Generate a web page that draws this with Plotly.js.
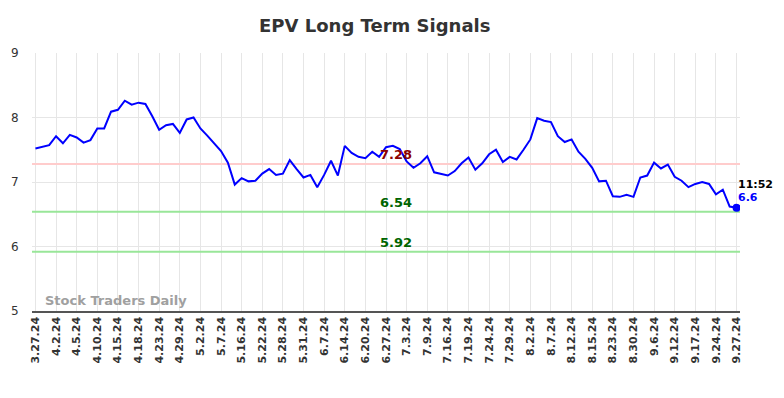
<!DOCTYPE html>
<html>
<head>
<meta charset="utf-8">
<script src="https://cdn.plot.ly/plotly-3.0.1.min.js"></script>
<style>html,body{margin:0;padding:0;background:#fff;}#chart{width:784px;height:398px;}</style>
</head>
<body>
<div id="chart"></div>
<script>
const tickLabels = ["3.27.24","4.2.24","4.5.24","4.10.24","4.15.24","4.18.24","4.23.24","4.29.24","5.2.24","5.7.24","5.16.24","5.22.24","5.28.24","5.31.24","6.7.24","6.14.24","6.20.24","6.27.24","7.3.24","7.9.24","7.16.24","7.19.24","7.24.24","7.29.24","8.2.24","8.7.24","8.12.24","8.15.24","8.23.24","8.30.24","9.6.24","9.12.24","9.17.24","9.24.24","9.27.24"];
const pointsPerTick = 3;
const signalValues = [
7.52,7.54,7.57,7.71,7.60,7.73,7.69,7.61,7.65,7.83,
7.83,8.09,8.12,8.26,8.20,8.23,8.21,8.02,7.81,7.88,
7.90,7.76,7.97,8.00,7.83,7.72,7.60,7.48,7.30,6.96,
7.06,7.01,7.02,7.13,7.20,7.11,7.13,7.34,7.20,7.07,
7.11,6.92,7.11,7.33,7.10,7.56,7.45,7.39,7.37,7.47,
7.39,7.54,7.56,7.51,7.32,7.22,7.29,7.40,7.15,7.12,
7.10,7.17,7.29,7.38,7.19,7.29,7.43,7.50,7.31,7.39,
7.35,7.50,7.66,7.99,7.95,7.93,7.71,7.62,7.66,7.47,
7.36,7.22,7.01,7.02,6.78,6.77,6.80,6.77,7.07,7.10,
7.30,7.21,7.27,7.08,7.02,6.92,6.97,7.00,6.97,6.81,
6.88,6.62,6.60];
const resistanceLevels = [7.28];
const supportLevels = [6.54, 5.92];
const lastTime = "11:52";
const lastValue = 6.6;

const xIdx = signalValues.map((_, i) => i);
const tickVals = tickLabels.map((_, i) => i * pointsPerTick);
const lastIdx = signalValues.length - 1;
const midX = 52.5;

const traces = [];
resistanceLevels.forEach(v => traces.push({x:[-0.5, lastIdx+0.5], y:[v,v], mode:'lines', line:{color:'#ffcccc', width:2}, hoverinfo:'skip'}));
supportLevels.forEach(v => traces.push({x:[-0.5, lastIdx+0.5], y:[v,v], mode:'lines', line:{color:'#99e699', width:2}, hoverinfo:'skip'}));
traces.push({x:xIdx, y:signalValues, mode:'lines', line:{color:'#0000ff', width:2}});
traces.push({x:[lastIdx], y:[signalValues[lastIdx]], mode:'markers', marker:{color:'#0000ff', size:8}});

const annotations = [];
resistanceLevels.forEach(v => annotations.push({x:midX, y:v, xref:'x', yref:'y', text:'<b>'+v.toFixed(2)+'</b>', showarrow:false, yanchor:'bottom', yshift:0, font:{family:'DejaVu Sans', size:13, color:'#8b0000'}}));
supportLevels.forEach(v => annotations.push({x:midX, y:v, xref:'x', yref:'y', text:'<b>'+v.toFixed(2)+'</b>', showarrow:false, yanchor:'bottom', yshift:0, font:{family:'DejaVu Sans', size:13, color:'#006400'}}));
annotations.push({x:lastIdx, y:lastValue, xref:'x', yref:'y', text:'<b>'+lastTime+'</b>', showarrow:false, xanchor:'left', yanchor:'bottom', xshift:-1, yshift:15, font:{family:'DejaVu Sans', size:11, color:'#000'}});
annotations.push({x:lastIdx, y:lastValue, xref:'x', yref:'y', text:'<b>'+lastValue+'</b>', showarrow:false, xanchor:'left', yanchor:'bottom', xshift:-1, yshift:2, font:{family:'DejaVu Sans', size:11, color:'#0000ff'}});
annotations.push({x:0.02, y:5, xref:'paper', yref:'y', text:'<b>Stock Traders Daily</b>', showarrow:false, xanchor:'left', yanchor:'bottom', xshift:-3, yshift:1, font:{family:'DejaVu Sans', size:13, color:'#a0a0a0'}});

const layout = {
  width:784, height:398,
  margin:{l:32, r:44, t:53, b:87},
  paper_bgcolor:'#fff', plot_bgcolor:'#fff',
  showlegend:false,
  title:{text:'<b>EPV Long Term Signals</b>', x:0.478, xref:'container', xanchor:'center', y:0.935, yref:'container', yanchor:'middle', font:{family:'DejaVu Sans', size:18, color:'#333'}},
  xaxis:{range:[-0.5, lastIdx+0.5], tickvals:tickVals, ticktext:tickLabels, tickangle:-90, showgrid:true, gridcolor:'#e6e6e6', zeroline:false, showline:true, linecolor:'#555', linewidth:1.5, ticks:'', tickfont:{family:'DejaVu Sans', size:11, color:'#333', weight:'bold'}, fixedrange:true},
  yaxis:{range:[5,9], tickvals:[5,6,7,8,9], showgrid:true, gridcolor:'#e6e6e6', zeroline:false, showline:false, ticks:'outside', ticklen:10, tickcolor:'rgba(0,0,0,0)', tickfont:{family:'DejaVu Sans', size:12, color:'#333'}, fixedrange:true},
  annotations:annotations
};
Plotly.newPlot('chart', traces, layout, {staticPlot:true, displayModeBar:false});
</script>
</body>
</html>
